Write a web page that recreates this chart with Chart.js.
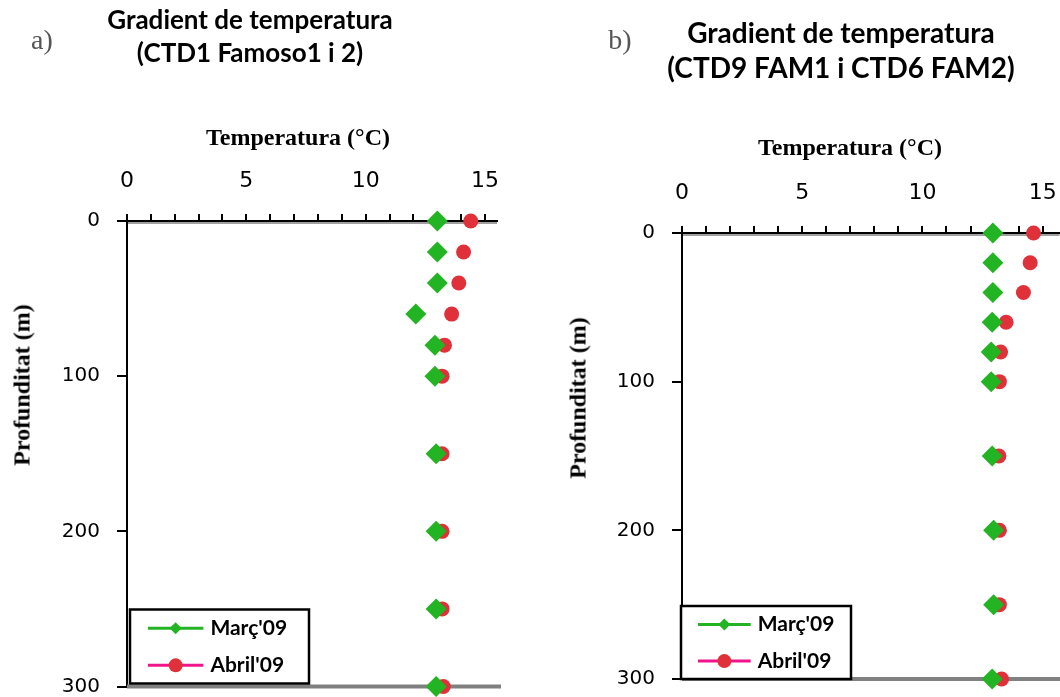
<!DOCTYPE html>
<html>
<head>
<meta charset="utf-8">
<script src="https://cdn.jsdelivr.net/npm/chart.js@4.4.0/dist/chart.umd.min.js"></script>
<style>
  body { margin: 0; width: 1060px; height: 697px; background: #fff; position: relative; overflow: hidden; }
  .box { position: absolute; top: 0; height: 697px; }
  #boxA { left: 0; width: 540px; }
  #boxB { left: 540px; width: 530px; }
  .lbl { position: absolute; white-space: nowrap; transform: translate(-50%, -50%); color: #000; }
  .ttl { font-family: Lato, "Open Sans", sans-serif; font-weight: 700; text-align: center; line-height: 33px; }
  .tag { font-family: "Liberation Serif", serif; font-size: 28px; color: #555; }
  .ax { font-family: "Liberation Serif", serif; font-weight: 700; font-size: 24px; }
  .rot { transform: translate(-50%, -50%) rotate(-90deg); }
</style>
</head>
<body>
<div class="box" id="boxA"><canvas id="chartA"></canvas></div>
<div class="box" id="boxB"><canvas id="chartB"></canvas></div>

<div class="lbl tag" style="left:42px;top:40px">a)</div>
<div class="lbl ttl" style="left:250px;top:36px;font-size:26px">Gradient de temperatura<br>(CTD1 Famoso1 i 2)</div>
<div class="lbl ax" style="left:298px;top:137px">Temperatura (°C)</div>
<div class="lbl ax rot" style="left:22px;top:385px">Profunditat (m)</div>

<div class="lbl tag" style="left:620px;top:40px">b)</div>
<div class="lbl ttl" style="left:841px;top:50px;font-size:28px;line-height:35px">Gradient de temperatura<br>(CTD9 FAM1 i CTD6 FAM2)</div>
<div class="lbl ax" style="left:850px;top:147px">Temperatura (°C)</div>
<div class="lbl ax rot" style="left:578px;top:398px">Profunditat (m)</div>

<script>
// depth of each CTD reading (m)
const depths = [0, 20, 40, 60, 80, 100, 150, 200, 250, 300];

// a) CTD1 Famoso1 i 2
const marcA  = [13.0, 13.0, 13.0, 12.1, 12.9, 12.9, 12.95, 12.95, 12.95, 12.95];
const abrilA = [14.4, 14.1, 13.9, 13.6, 13.3, 13.2, 13.2, 13.2, 13.2, 13.25];

// b) CTD9 FAM1 i CTD6 FAM2
const marcB  = [12.93, 12.93, 12.93, 12.9, 12.86, 12.86, 12.9, 12.96, 12.96, 12.9];
const abrilB = [14.62, 14.48, 14.2, 13.48, 13.25, 13.2, 13.18, 13.2, 13.2, 13.29];

const seriesNames = ["Març'09", "Abril'09"];
const tempLabelStep = 5;
const depthStep = 100;

const GREEN = "#22b422";
const RED = "#e0313a";
const PINK = "#f0148c";

function pts(temps) {
    return temps.map((t, i) => ({ x: t, y: depths[i] }));
}

// gray bottom line + legend box inside plot
const extras = {
    id: "extras",
    beforeDatasetsDraw(chart, args, o) {
        const ctx = chart.ctx;
        const a = chart.chartArea;
        const yb = chart.scales.y.getPixelForValue(300);
        ctx.save();
        ctx.strokeStyle = "#808080";
        ctx.lineWidth = 4;
        ctx.beginPath();
        ctx.moveTo(a.left, yb);
        ctx.lineTo(a.right + 4, yb);
        ctx.stroke();
        // shadow under top axis
        ctx.lineWidth = 1.5;
        ctx.beginPath();
        ctx.moveTo(a.left + 1, a.top + 2);
        ctx.lineTo(a.right, a.top + 2);
        ctx.stroke();
        ctx.restore();
    },
    afterDraw(chart, args, o) {
        const ctx = chart.ctx;
        const a = chart.chartArea;
        const bx = a.left + o.dx, by = a.bottom - o.h - o.dy;
        ctx.save();
        ctx.fillStyle = "#fff";
        ctx.fillRect(bx, by, o.w, o.h);
        ctx.strokeStyle = "#000";
        ctx.lineWidth = 2.5;
        ctx.strokeRect(bx, by, o.w, o.h);

        const rows = [by + o.h * 0.255, by + o.h * 0.755];
        const lx0 = bx + o.w * 0.1, lx1 = bx + o.w * 0.41, mx = bx + o.w * 0.255;

        // Març
        ctx.strokeStyle = GREEN;
        ctx.lineWidth = 3;
        ctx.beginPath(); ctx.moveTo(lx0, rows[0]); ctx.lineTo(lx1, rows[0]); ctx.stroke();
        ctx.fillStyle = GREEN;
        ctx.beginPath();
        ctx.moveTo(mx, rows[0] - 6); ctx.lineTo(mx + 6, rows[0]);
        ctx.lineTo(mx, rows[0] + 6); ctx.lineTo(mx - 6, rows[0]);
        ctx.closePath(); ctx.fill();

        // Abril
        ctx.strokeStyle = PINK;
        ctx.beginPath(); ctx.moveTo(lx0, rows[1]); ctx.lineTo(lx1, rows[1]); ctx.stroke();
        ctx.fillStyle = RED;
        ctx.beginPath(); ctx.arc(mx, rows[1], 7, 0, Math.PI * 2); ctx.fill();

        ctx.fillStyle = "#000";
        ctx.font = "700 21px Lato, sans-serif";
        ctx.textBaseline = "middle";
        ctx.fillText(seriesNames[0], lx1 + 7, rows[0]);
        ctx.fillText(seriesNames[1], lx1 + 7, rows[1]);
        ctx.restore();
    }
};

function makeChart(id, marc, abril, g) {
    return new Chart(document.getElementById(id), {
        type: "scatter",
        data: {
            datasets: [
                {
                    label: seriesNames[0],
                    data: pts(marc),
                    pointStyle: "rectRot",
                    pointRadius: 10.5,
                    backgroundColor: GREEN,
                    borderColor: GREEN,
                    borderWidth: 0,
                    clip: false
                },
                {
                    label: seriesNames[1],
                    data: pts(abril),
                    pointStyle: "circle",
                    pointRadius: 7.5,
                    backgroundColor: RED,
                    borderColor: RED,
                    borderWidth: 0,
                    clip: false
                }
            ]
        },
        options: {
            responsive: true,
            maintainAspectRatio: false,
            animation: false,
            layout: { padding: { left: 0, top: 0, right: g.padRight, bottom: g.padBottom } },
            plugins: {
                legend: { display: false },
                tooltip: { enabled: false },
                extras: g.legend
            },
            scales: {
                x: {
                    type: "linear",
                    position: "top",
                    min: 0,
                    max: g.xMax,
                    afterFit: s => { s.height = g.xHeight; s.paddingLeft = 0; s.paddingRight = 0; },
                    ticks: {
                        stepSize: 1,
                        includeBounds: false,
                        autoSkip: false,
                        maxRotation: 0,
                        padding: g.xPad,
                        color: "#000",
                        font: { family: "DejaVu Sans", size: 22 },
                        callback: v => (v % tempLabelStep === 0 ? v : "")
                    },
                    grid: { drawOnChartArea: false, drawTicks: true, tickLength: 7, color: "#000", lineWidth: 2 },
                    border: { display: true, color: "#000", width: 2 }
                },
                y: {
                    type: "linear",
                    reverse: true,
                    min: 0,
                    max: 300,
                    afterFit: s => { s.width = g.yWidth; s.paddingTop = 0; s.paddingBottom = 0; },
                    ticks: {
                        stepSize: depthStep,
                        padding: 17,
                        color: "#000",
                        font: { family: "DejaVu Sans", size: 20 }
                    },
                    grid: { drawOnChartArea: false, drawTicks: true, tickLength: 10, color: "#000", lineWidth: 2 },
                    border: { display: true, color: "#000", width: 2 }
                }
            }
        },
        plugins: [extras]
    });
}

makeChart("chartA", marcA, abrilA, {
    xMax: 15.5, xHeight: 221, yWidth: 127, padRight: 43, padBottom: 10, xPad: 20,
    legend: { dx: 3, dy: 3, w: 179, h: 74 }
});

makeChart("chartB", marcB, abrilB, {
    xMax: 15.7, xHeight: 233, yWidth: 142, padRight: 0, padBottom: 18, xPad: 20,
    legend: { dx: -1, dy: 0, w: 170, h: 73 }
});
</script>
</body>
</html>
